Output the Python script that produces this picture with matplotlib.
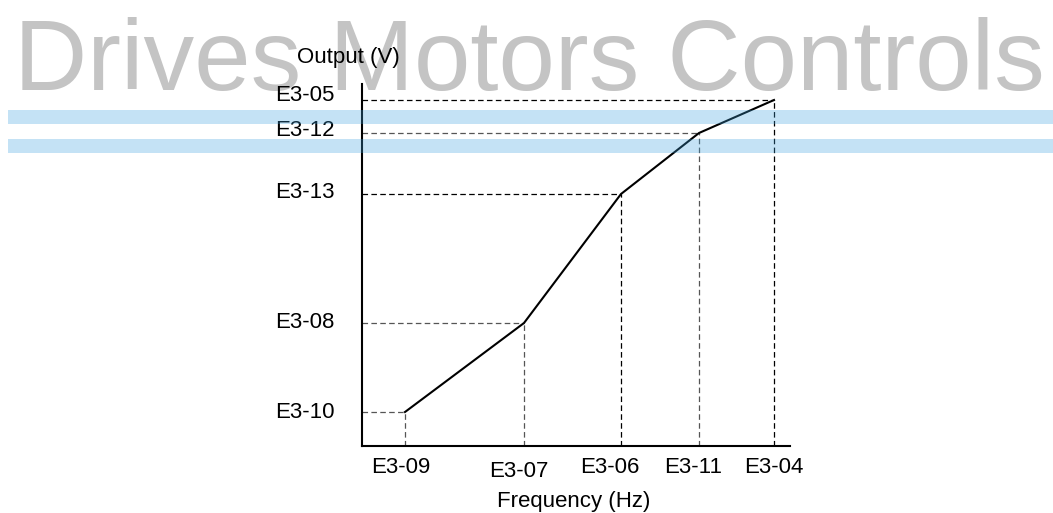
import matplotlib
matplotlib.use("Agg")
import matplotlib.pyplot as plt
from matplotlib.patches import Rectangle

plt.rcParams['font.family'] = ['Liberation Sans', 'DejaVu Sans']
plt.rcParams['lines.scale_dashes'] = False

# V/f pattern break points (frequency, voltage) and their parameter names
freq = [4.3, 16.2, 25.9, 33.7, 41.2]
volt = [3.4, 12.3, 25.2, 31.3, 34.6]
freq_names = ['E3-09', 'E3-07', 'E3-06', 'E3-11', 'E3-04']
volt_names = ['E3-10', 'E3-08', 'E3-13', 'E3-12', 'E3-05']

# small nudges (points) for the parameter labels
x_nudge = [(-3, 0), (-4, -3), (-8, 0), (-4, 0), (0, 0)]
y_nudge = [0, 0, 1, 2, 3]
FS = 16

fig = plt.figure(figsize=(10.53, 5.13), dpi=100)
W, H = 1053, 513

# watermark, kept behind the chart
fig.text(14 / W, 1 - 90 / H, 'Drives Motors Controls', fontsize=73,
         color='#c4c4c4', ha='left', va='baseline', zorder=-5)

ax = fig.add_axes([362 / W, 1 - 446 / H, (790 - 362) / W, (446 - 84) / H])
ax.set_xlim(0, 42.8)
ax.set_ylim(0, 36.2)
ax.patch.set_alpha(0)
for s in ['top', 'right']:
    ax.spines[s].set_visible(False)
for s in ['left', 'bottom']:
    ax.spines[s].set_linewidth(1.5)
ax.set_xticks([])
ax.set_yticks([])

ax.plot(freq, volt, color='black', lw=1.5, solid_joinstyle='miter', zorder=3)
for i, (f, v) in enumerate(zip(freq, volt)):
    dcol = '#555555' if i < 2 or i == 3 else 'black'
    ax.plot([0, f], [v, v], color=dcol, lw=0.9, dashes=(4, 2.4), zorder=2)
    ax.plot([f, f], [0, v], color=dcol, lw=0.9, dashes=(4, 2.4), zorder=2)
    ax.annotate(freq_names[i], (f, 0), xytext=(x_nudge[i][0], -15.5 + x_nudge[i][1]),
                textcoords='offset points', ha='center', va='center', fontsize=FS)
    ax.annotate(volt_names[i], (0, v), xytext=(-19.5, y_nudge[i]),
                textcoords='offset points', ha='right', va='center', fontsize=FS)

ax.annotate('Frequency (Hz)', (0.5, 0), xycoords='axes fraction', xytext=(-2, -40),
            textcoords='offset points', ha='center', va='center', fontsize=FS)
fig.text(348 / W, 1 - 57 / H, 'Output (V)', ha='center', va='center', fontsize=FS)

# translucent blue header bands over everything
for y0, y1 in [(110, 124), (139, 153)]:
    fig.patches.append(Rectangle((8 / W, 1 - y1 / H), 1 - 8 / W, (y1 - y0) / H,
                                 transform=fig.transFigure, facecolor=(62 / 255, 162 / 255, 222 / 255),
                                 alpha=0.3, edgecolor='none', zorder=10))

fig.savefig('out.png', dpi=100)
